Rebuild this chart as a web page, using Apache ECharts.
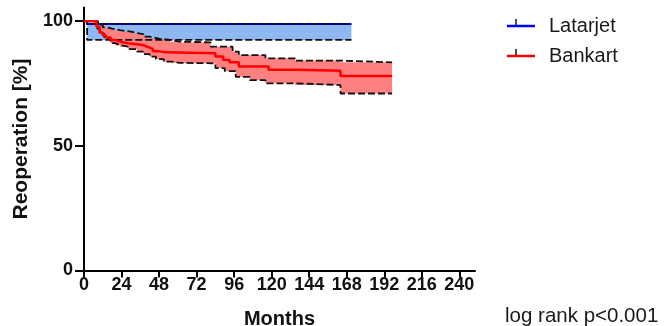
<!DOCTYPE html>
<html>
<head>
<meta charset="utf-8">
<script src="https://cdn.jsdelivr.net/npm/echarts@6/dist/echarts.min.js"></script>
<style>html,body{margin:0;padding:0;background:#fff}#c{width:664px;height:326px}</style>
</head>
<body>
<div id="c"></div>
<script>
// ---- data ----
const xTicks = [0, 24, 48, 72, 96, 120, 144, 168, 192, 216, 240];
const yTicks = [0, 50, 100];

const latT  = [0, 2, 171];
const latS  = [100, 98.9, 98.9];
const latUpT = [0, 2, 171];
const latUpV = [100, 98.9, 98.9];
const latLoT = [0, 2, 171];
const latLoV = [100, 92.5, 92.5];

const bankT = [0, 6, 8, 10, 12, 14, 17, 20, 23, 28, 34, 38, 41, 44, 48, 52, 84, 89, 93, 99, 118, 135, 164, 197];
const bankS = [100, 100, 97.8, 95.5, 94.4, 93.5, 92.5, 91.8, 91.2, 90.8, 90.4, 89.6, 88.9, 88.0, 87.5, 87.1, 85.8, 84.5, 83.5, 81.8, 80.5, 80.1, 78.0, 78.0];
const bankUpT = [0, 6, 9, 12, 15, 18, 23, 30, 34, 38, 42, 48, 55, 61, 81, 95, 99, 116, 135, 164, 197];
const bankUpV = [100, 100, 98.5, 97.5, 97.0, 96.4, 95.8, 95.2, 94.8, 93.8, 93.0, 92.5, 91.8, 91.5, 89.8, 87.8, 86.4, 85.1, 84.2, 83.5, 83.5];
const bankLoT = [0, 6, 8, 10, 13, 17, 20, 23, 28, 34, 38, 42, 46, 51, 56, 61, 84, 90, 97, 106, 116, 135, 164, 197];
const bankLoV = [100, 100, 97, 95, 93.2, 91.2, 90.4, 89.8, 88.8, 87.8, 86.8, 85.8, 84.8, 83.8, 83.3, 83.1, 81.2, 80.0, 77.7, 76.4, 75.1, 74.4, 71.0, 71.0];

// ---- helpers ----
const zip = (T, V) => T.map((t, i) => [t, V[i]]);
function stepPts(T, V) {
  const p = [[T[0], V[0]]];
  for (let i = 1; i < T.length; i++) { p.push([T[i], V[i - 1]]); p.push([T[i], V[i]]); }
  return p;
}
function bandSeries(upT, upV, loT, loV, fill) {
  const pts = stepPts(upT, upV).concat(stepPts(loT, loV).reverse());
  return {
    type: 'custom', silent: true, data: [[0, 0]],
    renderItem: (params, api) => ({
      type: 'polygon',
      shape: { points: pts.map(p => api.coord(p)) },
      style: { fill: fill, stroke: null }
    })
  };
}
function ciLine(T, V) {
  return {
    type: 'line', step: 'end', symbol: 'none', silent: true,
    data: zip(T, V),
    lineStyle: { color: '#111', width: 1.8, type: [7, 3] }
  };
}

const font = '"Liberation Sans", Arial, Helvetica, sans-serif';
const chart = echarts.init(document.getElementById('c'));
chart.setOption({
  animation: false,
  grid: { left: 84, right: 189, top: 7.5, bottom: 55.5, outerBoundsMode: 'none', containLabel: false },
  legend: {
    data: ['Latarjet', 'Bankart'], orient: 'vertical', left: 502, top: 11,
    itemWidth: 28, itemHeight: 2.5, icon: 'rect', itemGap: 10, selectedMode: false,
    textStyle: { fontFamily: font, fontSize: 20, color: '#1a1a1a', lineHeight: 20, padding: [0, 0, 0, 9] }
  },
  xAxis: {
    type: 'value', min: 0, max: 250,
    name: 'Months', nameLocation: 'middle', nameGap: 39,
    nameTextStyle: { fontFamily: font, fontSize: 20, fontWeight: 'bold', color: '#111' },
    axisLine: { lineStyle: { color: '#000', width: 2 } },
    axisTick: { show: true, length: 7, lineStyle: { color: '#000', width: 2 }, customValues: xTicks },
    axisLabel: { customValues: xTicks, margin: 6, fontFamily: font, fontSize: 18, fontWeight: 'bold', color: '#111' },
    splitLine: { show: false }
  },
  yAxis: {
    type: 'value', min: 0, max: 105.5,
    name: 'Reoperation [%]', nameLocation: 'middle', nameGap: 51,
    nameTextStyle: { fontFamily: font, fontSize: 21, fontWeight: 'bold', color: '#111' },
    axisLine: { show: true, lineStyle: { color: '#000', width: 2 } },
    axisTick: { show: true, length: 9, lineStyle: { color: '#000', width: 2 }, customValues: yTicks },
    axisLabel: { customValues: yTicks, margin: 11, fontFamily: font, fontSize: 18, fontWeight: 'bold', color: '#111' },
    splitLine: { show: false }
  },
  graphic: [
    { type: 'line', shape: { x1: 516, y1: 19, x2: 516, y2: 25 }, style: { stroke: '#111', lineWidth: 1.5 } },
    { type: 'line', shape: { x1: 516, y1: 49, x2: 516, y2: 55 }, style: { stroke: '#111', lineWidth: 1.5 } },
    { type: 'text', x: 505, y: 316, style: { text: 'log rank p<0.001', font: '20.5px ' + font, fill: '#1a1a1a', verticalAlign: 'middle' } }
  ],
  series: [
    bandSeries(latUpT, latUpV, latLoT, latLoV, '#8fb8f2'),
    ciLine(latLoT, latLoV),
    { name: 'Latarjet', type: 'line', step: 'end', symbol: 'none', color: '#0000ff', data: zip(latT, latS), lineStyle: { color: '#0000ff', width: 2 } },
    ciLine(latUpT, latUpV),
    bandSeries(bankUpT, bankUpV, bankLoT, bankLoV, '#ff8080'),
    ciLine(bankUpT, bankUpV),
    ciLine(bankLoT, bankLoV),
    { name: 'Bankart', type: 'line', step: 'end', symbol: 'none', color: '#ff0000', data: zip(bankT, bankS), lineStyle: { color: '#ff0000', width: 2.5 } }
  ]
});
</script>
</body>
</html>
